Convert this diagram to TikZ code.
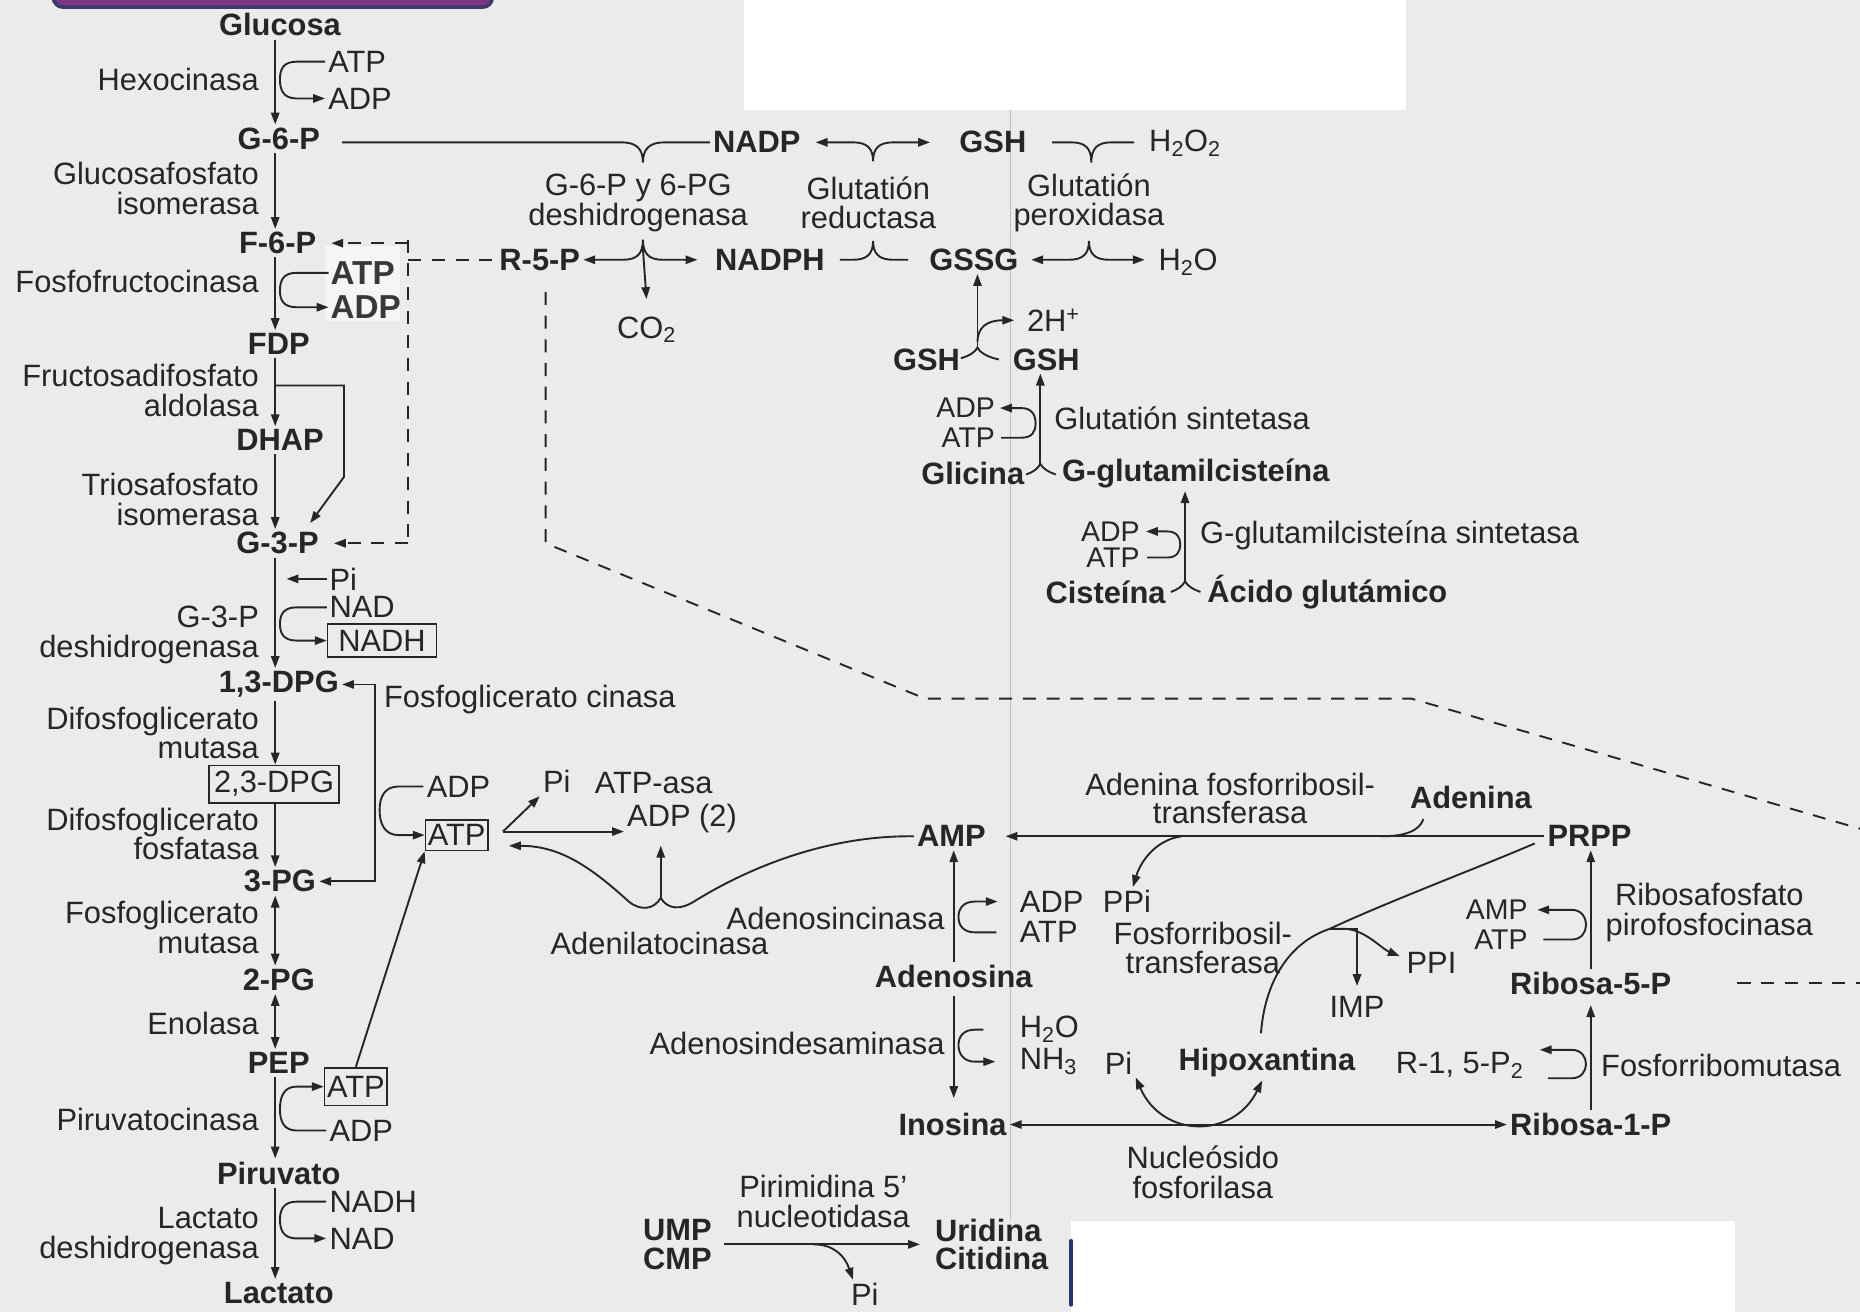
\documentclass[tikz,border=0pt]{standalone}
\usepackage{fontspec}
\setmainfont{Liberation Sans}
\usepackage{tikz}
\usetikzlibrary{arrows.meta, positioning, calc}
\definecolor{scan}{HTML}{EBEBEB}
\definecolor{ink}{HTML}{262626}
\definecolor{header}{HTML}{7C3782}
\definecolor{headerrim}{HTML}{3C3A6B}
\definecolor{stripe}{HTML}{2B3570}

\tikzset{
  met/.style={font=\fontsize{26}{24}\selectfont\bfseries, inner sep=2pt},
  enz/.style={font=\fontsize{26}{25}\selectfont, inner sep=2pt},
  cof/.style={font=\fontsize{26}{25}\selectfont, inner sep=2pt},
  pair/.style={font=\fontsize{24}{24}\selectfont, inner sep=0.5pt},
  boxcof/.style={cof, draw=ink, line width=1.4pt, inner xsep=4pt, inner ysep=5pt},
  heavy/.style={font=\fontsize{28}{28}\selectfont\bfseries, text=black!78, inner sep=1pt},
  dashlink/.style={dash pattern=on 11pt off 9pt}
}

\begin{document}
\begin{tikzpicture}[x=1pt, y=1pt, line width=1.6pt, color=ink, >={Triangle[length=10pt,width=7pt]}]
    \useasboundingbox (0,0) rectangle (1568,-1106);

    % Page
    \fill[scan] (0,0) rectangle (1568,-1106);
    \fill[white] (627,0) rectangle (1185,-93);
    \fill[white] (903,-1029) rectangle (1463,-1106);
    \draw[stripe, line width=3pt, line cap=round] (903,-1046) -- (903,-1100);
    \draw[black!25, line width=0.8pt] (852,-93) -- (852,-1029);
    \draw[headerrim, fill=header, line width=3pt, rounded corners=8pt] (45,20) rectangle (415,-6);
    \fill[black!4] (274,-207) rectangle (337,-271);

    % Glycolysis
    \coordinate (axis) at (232,0);
    \node[met] (glucosa) at (236,-21) {Glucosa};
    \node[met] (g6p) at (235,-117) {G-6-P};
    \node[met] (f6p) at (234,-205) {F-6-P};
    \node[met] (fdp) at (235,-290) {FDP};
    \node[met] (dhap) at (236,-371) {DHAP};
    \node[met] (g3p) at (234,-458) {G-3-P};
    \node[met] (dpg13) at (235,-577) {1,3-DPG};
    \node[boxcof] (dpg23) at (231,-661) {2,3-DPG};
    \node[met] (pg3) at (236,-743) {3-PG};
    \node[met] (pg2) at (235,-826) {2-PG};
    \node[met] (pep) at (235,-896) {PEP};
    \node[met] (piruvato) at (235,-989) {Piruvato};
    \node[met] (lactato) at (235,-1090) {Lactato};

    \node[enz, anchor=east] (hk) at (221,-67) {Hexocinasa};
    \node[enz, anchor=east, align=right] (gpi) at (221,-159) {Glucosafosfato\\isomerasa};
    \node[enz, anchor=east] (pfk) at (221,-237) {Fosfofructocinasa};
    \node[enz, anchor=east, align=right] (ald) at (221,-329) {Fructosadifosfato\\aldolasa};
    \node[enz, anchor=east, align=right] (tpi) at (221,-421) {Triosafosfato\\isomerasa};
    \node[enz, anchor=east, align=right] (gapdh) at (221,-535) {G-3-P\\deshidrogenasa};
    \node[enz, anchor=east, align=right] (dpgm) at (221,-618) {Difosfoglicerato\\mutasa};
    \node[enz, anchor=east, align=right] (dpgp) at (221,-703) {Difosfoglicerato\\fosfatasa};
    \node[enz, anchor=east, align=right] (pgm) at (221,-782) {Fosfoglicerato\\mutasa};
    \node[enz, anchor=east] (eno) at (221,-863) {Enolasa};
    \node[enz, anchor=east] (pk) at (221,-944) {Piruvatocinasa};
    \node[enz, anchor=east, align=right] (ldh) at (221,-1042) {Lactato\\deshidrogenasa};
    \node[enz, anchor=west] (pgk) at (321,-590) {Fosfoglicerato cinasa};

    \node[cof, anchor=west] (atpA) at (274,-52) {ATP};
    \node[cof, anchor=west] (adpA) at (274,-83) {ADP};
    \node[heavy, anchor=west] (atpB) at (277,-230) {ATP};
    \node[heavy, anchor=west] (adpB) at (277,-259) {ADP};
    \node[cof, inner sep=0.5pt, anchor=west] (pi1) at (276.5,-488) {Pi};
    \node[cof, inner sep=0.5pt, anchor=west] (nad1) at (276.5,-512) {NAD};
    \node[boxcof, inner xsep=9pt] (nadh1) at (322,-540) {NADH};
    \node[cof, anchor=west] (adp3) at (357,-663) {ADP};
    \node[boxcof, inner xsep=2pt, inner ysep=4pt] (atp3) at (385,-704) {ATP};
    \node[cof, anchor=west] (pi2) at (455,-659) {Pi};
    \node[cof] (atpasa) at (551,-660) {ATP-asa};
    \node[cof] (adp2) at (575,-690) {ADP (2)};
    \node[boxcof, inner xsep=2pt, inner ysep=7pt] (atp4) at (300,-916) {ATP};
    \node[cof, anchor=west] (adp4) at (275,-953) {ADP};
    \node[cof, anchor=west] (nadh2) at (275,-1013) {NADH};
    \node[cof, anchor=west] (nad2) at (275,-1044) {NAD};

    \draw[->] (glucosa.south -| axis) -- (g6p.north -| axis);
    \draw[->] (g6p.south -| axis) -- (f6p.north -| axis);
    \draw[->] (f6p.south -| axis) -- (fdp.north -| axis);
    \draw[->] (fdp.south -| axis) -- (dhap.north -| axis);
    \draw[->] (dhap.south -| axis) -- (g3p.north -| axis);
    \draw[->] (g3p.south -| axis) -- (dpg13.north -| axis);
    \draw[->] (dpg13.south -| axis) -- (dpg23.north -| axis);
    \draw[->] (dpg23.south -| axis) -- (pg3.north -| axis);
    \draw[<->] (pg3.south -| axis) -- (pg2.north -| axis);
    \draw[<->] (pg2.south -| axis) -- (pep.north -| axis);
    \draw[->] (pep.south -| axis) -- (piruvato.north -| axis);
    \draw[->] (piruvato.south -| axis) -- (lactato.north -| axis);

    % Cofactor hooks
    \draw[->] (atpA.west) -- (250,-52) .. controls (239,-52) and (236,-58) .. (236,-67) .. controls (236,-76) and (239,-83) .. (250,-83) -- (adpA.west);
    \draw[->] (atpB.west) -- (250,-230) .. controls (239,-230) and (236,-236) .. (236,-245) .. controls (236,-253) and (239,-259) .. (250,-259) -- (adpB.west);
    \draw[->] ([xshift=-1pt]pi1.west) -- ++(-34,0);
    \draw[->] ([xshift=-1pt]nad1.west) -- (250,-512) .. controls (239,-512) and (236,-518) .. (236,-526) .. controls (236,-534) and (239,-540) .. (250,-540) -- (nadh1.west);
    \draw[->] (adp4.west) -- (250,-953) .. controls (239,-953) and (236,-945) .. (236,-935) .. controls (236,-925) and (239,-916) .. (250,-916) -- (atp4.west);
    \draw[->] (nadh2.west) -- (250,-1013) .. controls (239,-1013) and (236,-1020) .. (236,-1028) .. controls (236,-1037) and (239,-1044) .. (250,-1044) -- (nad2.west);

    % Bypasses
    \coordinate (fdpfork) at (232,-325);
    \draw[->] (fdpfork) -- (290,-325) -- (290,-402) -- ([xshift=-10pt,yshift=5pt]g3p.north east);
    \coordinate (bypass) at (316,0);
    \draw[<->] (dpg13.east) -- (dpg13.east -| bypass) -- (pg3.east -| bypass) -- (pg3.east);
    \draw[->] (adp3.west) -- (336,-663) .. controls (324,-663) and (320,-672) .. (320,-683) .. controls (320,-694) and (324,-704) .. (336,-704) -- (atp3.west);
    \draw[->] (atp4.north) -- (atp3.south west);

    % Pentose shunt
    \node[met] (nadp) at (638,-120) {NADP};
    \node[met] (gsh1) at (837,-120) {GSH};
    \node[cof, anchor=west] (h2o2) at (966,-121) {H\textsubscript{2}O\textsubscript{2}};
    \node[enz, align=center] (g6pd) at (538,-171) {G-6-P y 6-PG\\deshidrogenasa};
    \node[enz, align=center] (gr) at (732,-171) {Glutatión\\reductasa};
    \node[enz, align=center] (gpx) at (918,-171) {Glutatión\\peroxidasa};
    \node[met] (r5p) at (455,-219) {R-5-P};
    \node[met] (nadph) at (649,-219) {NADPH};
    \node[met] (gssg) at (821,-219) {GSSG};
    \node[cof, anchor=west] (h2o1) at (974,-221) {H\textsubscript{2}O};
    \node[cof] (co2) at (545,-278) {CO\textsubscript{2}};
    \node[cof, anchor=west] (hplus) at (863,-270) {2H\textsuperscript{+}};
    \node[met] (gshL) at (781,-303) {GSH};
    \node[met] (gshR) at (882,-303) {GSH};
    \node[pair, anchor=east] (adp5) at (840,-344) {ADP};
    \node[pair, anchor=east] (atp5) at (840,-369) {ATP};
    \node[enz, anchor=west] (gs) at (886,-353) {Glutatión sintetasa};
    \node[met] (glicina) at (820,-399) {Glicina};
    \node[met] (gglu) at (1008,-399) {G-glutamilcisteína};
    \node[pair, anchor=east] (adp6) at (962,-448) {ADP};
    \node[pair, anchor=east] (atp6) at (962,-470) {ATP};
    \node[enz, anchor=west] (gcs) at (1009,-451) {G-glutamilcisteína sintetasa};
    \node[met] (cisteina) at (932,-499) {Cisteína};
    \node[met] (acglu) at (1119,-499) {Ácido glutámico};

    \draw ([xshift=16pt]g6p.east |- nadp.west) -- (524,-120) .. controls (536,-120) and (542,-125) .. (542,-137) .. controls (542,-125) and (548,-120) .. (560,-120) -- (nadp.west);
    \draw[<->] ([xshift=10pt]nadp.east) -- (719,-120) .. controls (731,-120) and (736,-125) .. (736,-136) .. controls (736,-125) and (741,-120) .. (753,-120) -- ([xshift=-22pt]gsh1.west);
    \draw ([xshift=19pt]gsh1.east) -- (903,-120) .. controls (915,-120) and (920,-125) .. (920,-137) .. controls (920,-125) and (925,-120) .. (937,-120) -- ([xshift=-10pt]h2o2.west |- gsh1.west);
    \draw[<->] (r5p.east) -- (525,-219) .. controls (537,-219) and (542,-214) .. (542,-202) .. controls (542,-214) and (547,-219) .. (559,-219) -- ([xshift=-12pt]nadph.west);
    \draw[->] (542,-210) -- ([yshift=12pt]co2.north);
    \draw ([xshift=10pt]nadph.east) -- (719,-219) .. controls (731,-219) and (736,-214) .. (736,-203) .. controls (736,-214) and (741,-219) .. (753,-219) -- ([xshift=-15pt]gssg.west);
    \draw[<->] ([xshift=8pt]gssg.east) -- (901,-219) .. controls (913,-219) and (918,-214) .. (918,-203) .. controls (918,-214) and (923,-219) .. (935,-219) -- ([xshift=-9pt]h2o1.west |- gssg.east);

    \coordinate (jgsh) at (824,-293);
    \draw (810,-302) .. controls (817,-300) and (822,-297) .. (jgsh) .. controls (826,-297) and (832,-301) .. (842,-303);
    \draw[->] (jgsh) -- (gssg.south -| jgsh);
    \draw[->] (824,-288) .. controls (824,-276) and (832,-270) .. ([xshift=-8pt]hplus.west);
    \coordinate (jglic) at (877,-391);
    \draw (865,-400) .. controls (871,-398) and (875,-395) .. (jglic) .. controls (879,-395) and (884,-398) .. (890,-400);
    \draw[->] (jglic) -- (jglic |- gshR.south);
    \draw[->] ([xshift=4pt]atp5.east) -- (861,-369) .. controls (870,-369) and (873,-364) .. (873,-357) .. controls (873,-350) and (870,-344) .. (861,-344) -- ([xshift=3pt]adp5.east);
    \coordinate (jcys) at (999,-490);
    \draw (987,-499) .. controls (993,-497) and (997,-494) .. (jcys) .. controls (1001,-494) and (1006,-497) .. (1012,-499);
    \draw[->] (jcys) -- (jcys |- gglu.south);
    \draw[->] ([xshift=5pt]atp6.east) -- (984,-470) .. controls (992,-470) and (995,-465) .. (995,-459) .. controls (995,-453) and (992,-448) .. (984,-448) -- ([xshift=4pt]adp6.east);

    % Dashed links to glycolysis and PRPP
    \coordinate (dashA) at (344,-202);
    \coordinate (dashB) at (344,-458);
    \coordinate (r5down) at (460,-246);
    \draw[dashlink, ->] (dashA |- f6p.east) -- ([xshift=10pt]f6p.east);
    \draw[dashlink] (dashA) -- (dashB);
    \draw[dashlink, ->] (dashB) -- ([xshift=10pt]g3p.east);
    \draw[dashlink] (dashA |- r5p.west) -- (r5p.west);
    \draw[dashlink] (r5down) -- (460,-458) -- (780,-589) -- (1190,-589) -- (1590,-705);

    % Purines
    \node[met] (amp) at (802,-705) {AMP};
    \node[met] (adenina) at (1240,-672) {Adenina};
    \node[met] (prpp) at (1340,-705) {PRPP};
    \node[enz, align=center, font=\fontsize{26}{23}\selectfont] (aprt) at (1037,-673) {Adenina fosforribosil-\\transferasa};
    \node[enz] (adk) at (556,-795) {Adenilatocinasa};
    \node[enz, anchor=east] (adok) at (799,-774) {Adenosincinasa};
    \node[cof, anchor=west] (adp7) at (857,-760) {ADP};
    \node[cof, anchor=west] (atp7) at (857,-786) {ATP};
    \node[cof] (ppi1) at (950,-760) {PPi};
    \node[enz, align=center] (hprt) at (1014,-799) {Fosforribosil-\\transferasa};
    \node[met] (adenosina) at (804,-823) {Adenosina};
    \node[enz, anchor=east] (ada) at (799,-880) {Adenosindesaminasa};
    \node[cof, anchor=west] (h2o3) at (857,-868) {H\textsubscript{2}O};
    \node[cof, anchor=west] (nh3) at (857,-895) {NH\textsubscript{3}};
    \node[cof] (pi3) at (943,-896) {Pi};
    \node[met] (hipox) at (1068,-896) {Hipoxantina};
    \node[cof] (imp) at (1144,-849) {IMP};
    \node[cof, anchor=west] (ppi2) at (1183,-812) {PPI};
    \node[pair, anchor=east] (amp2) at (1289,-767) {AMP};
    \node[pair, anchor=east] (atp8) at (1289,-792) {ATP};
    \node[enz, align=center] (prps) at (1441,-769) {Ribosafosfato\\pirofosfocinasa};
    \node[met] (ribosa5p) at (1341,-829) {Ribosa-5-P};
    \node[cof, anchor=east] (r15p) at (1287,-898) {R-1, 5-P\textsubscript{2}};
    \node[enz, anchor=west] (prm) at (1347,-898) {Fosforribomutasa};
    \node[met] (inosina) at (803,-948) {Inosina};
    \node[met] (ribosa1p) at (1341,-948) {Ribosa-1-P};
    \node[enz, align=center] (pnp) at (1014,-988) {Nucleósido\\fosforilasa};

    \coordinate (atpout) at (424,-701);
    \coordinate (atpin) at (429,-713);
    \coordinate (cusp) at (557,-757);
    \draw[->] (atpout) -- (pi2.south west);
    \draw[->] (atpout) -- (atpout -| adp2.west);
    \draw[->] (amp.west) .. controls (690,-704) and (622,-737) .. (585,-760) .. controls (574,-767) and (563,-767) .. (cusp) .. controls (551,-767) and (540,-768) .. (530,-760) .. controls (495,-728) and (470,-713) .. (atpin);
    \draw[->, shorten >=8pt] (cusp) -- (cusp |- adp2.south);

    \draw[->] (prpp.west) -- ([xshift=14pt]amp.east);
    \draw ([xshift=14pt,yshift=-6pt]adenina.south west) .. controls (1197,-700) and (1185,-705) .. (1165,-705);
    \draw[->] (996,-705) .. controls (975,-708) and (962,-725) .. ([xshift=5pt]ppi1.north);
    \draw[->] (adenosina.north) -- (adenosina.north |- amp.south);
    \draw[->] ([xshift=-17pt]atp7.west) -- (822,-786) .. controls (812,-786) and (808,-780) .. (808,-773) .. controls (808,-766) and (812,-760) .. (822,-760) -- ([xshift=-16pt]adp7.west);
    \draw[->, shorten <=4pt, shorten >=10pt] (adenosina.south) -- (inosina.north -| adenosina.south);
    \draw[->] ([xshift=-28pt]h2o3.west) -- (822,-868) .. controls (812,-868) and (808,-874) .. (808,-881) .. controls (808,-888) and (812,-895) .. (822,-895) -- ([xshift=-18pt]nh3.west);
    \draw[<->] (inosina.east) -- (ribosa1p.west);
    \draw[<->] (pi3.south east) .. controls (980,-960) and (1040,-960) .. ([xshift=-4pt]hipox.south);
    \draw ([xshift=-5pt,yshift=10pt]hipox.north) .. controls (1066,-830) and (1085,-795) .. (1121,-783) .. controls (1170,-760) and (1250,-730) .. ([xshift=-8pt,yshift=-6pt]prpp.west);
    \coordinate (hbr) at (1121,-783);
    \draw[->, shorten >=6pt] (hbr) -| (imp.north);
    \draw[->] (hbr) -- ++(12,0) .. controls (1150,-783) and (1165,-800) .. ([xshift=-3pt,yshift=6pt]ppi2.west);
    \draw[->] (ribosa5p.north) -- (ribosa5p.north |- prpp.south);
    \draw[->] ([xshift=12pt]atp8.east) -- (1325,-792) .. controls (1333,-792) and (1337,-786) .. (1337,-780) .. controls (1337,-773) and (1333,-767) .. (1325,-767) -- ([xshift=7pt]amp2.east);
    \draw[->, shorten >=6pt] (ribosa1p.north) -- (ribosa1p.north |- ribosa5p.south);
    \draw[->] ([xshift=18pt,yshift=-11pt]r15p.east) -- (1325,-909) .. controls (1333,-909) and (1337,-903) .. (1337,-897) .. controls (1337,-891) and (1333,-885) .. (1325,-885) -- ([xshift=11pt,yshift=13pt]r15p.east);
    \draw[dashlink] ([xshift=53pt]ribosa5p.east) -- ++(110,0);

    % Pyrimidines
    \node[enz, align=center] (p5n) at (694,-1013) {Pirimidina 5'\\nucleotidasa};
    \node[met, align=center] (umpcmp) at (571,-1049) {UMP\\CMP};
    \node[met, align=left] (uricit) at (836,-1049) {Uridina\\Citidina};
    \node[cof] (pi4) at (729,-1091) {Pi};
    \draw[->] ([xshift=8pt]umpcmp.east) -- ([xshift=-10pt]uricit.west);
    \draw[->] (686,-1049) .. controls (702,-1049) and (712,-1058) .. ([xshift=-10pt]pi4.north);
\end{tikzpicture}
\end{document}
